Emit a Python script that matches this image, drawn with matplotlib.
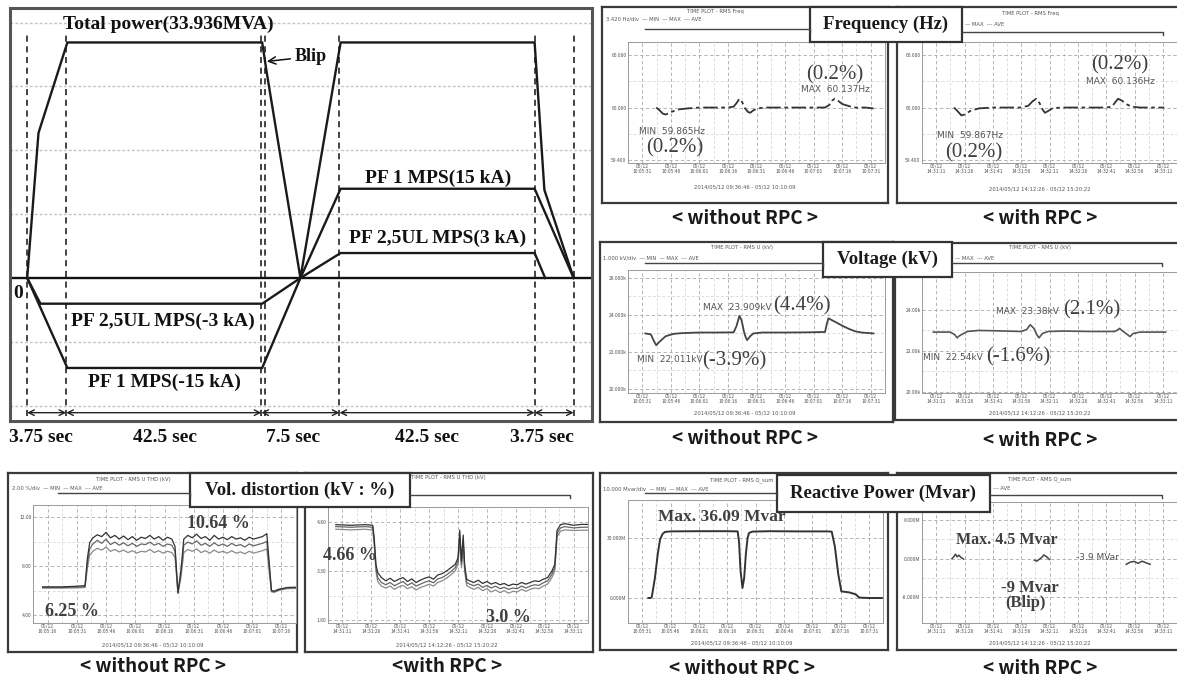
import matplotlib
matplotlib.use('Agg')
import matplotlib.pyplot as plt
from matplotlib.patches import Rectangle
import numpy as np

W, H = 1177, 679
SERIF = ['Liberation Serif', 'DejaVu Serif']
SANS = ['Noto Sans CJK KR', 'DejaVu Sans']
plt.rcParams['font.family'] = SANS

# ------------------------------------------------------------------ data
# main schematic (x: schematic phase positions, y: chart units, top = 33.936 MVA)
seg_bounds = [0, 1, 6, 8, 13, 14]
seg_labels = ['3.75 sec', '42.5 sec', '7.5 sec', '42.5 sec', '3.75 sec']
seg_label_x = [0.36, 3.52, 6.8, 10.25, 13.2]
grid_levels = [36.8, 27.6, 18.4, 9.2, -9.2, -18.4]
power_t = [0, 0.29, 1.03, 6.02, 6.14, 7.0, 8.03, 13.0, 13.25, 14.0]
power_v = [0, 20.9, 33.936, 33.936, 29.5, 0, 33.936, 33.936, 12.7, 0]
pf1_t = [0, 1.03, 6.02, 7.0, 8.03, 13.0, 14.0]
pf1_v = [0, -12.96, -12.96, 0, 12.86, 12.86, 0]
pf25_t = [0, 0.34, 6.02, 7.0, 8.03, 13.0, 13.27]
pf25_v = [0, -3.7, -3.7, 0, 3.6, 3.6, 0]

# frequency (Hz)
fw_x = [0.49, 0.60, 0.72, 0.82, 0.95, 1.10, 1.30, 1.60, 2.00, 2.50, 3.00, 3.20, 3.30, 3.40, 3.50, 3.60, 3.70,
        3.78, 3.90, 4.05, 4.30, 5.00, 5.50, 6.00, 6.40, 6.55, 6.65, 6.74, 6.85, 7.00, 7.20, 7.40, 7.80, 8.10]
fw_y = [60.00, 59.97, 59.93, 59.92, 59.94, 59.96, 59.98, 59.99, 60.00, 60.00, 60.00, 60.01, 60.05, 60.10, 60.06,
        59.99, 59.95, 59.94, 59.97, 59.99, 60.00, 60.00, 60.00, 60.00, 60.00, 60.03, 60.08, 60.10, 60.08, 60.04,
        60.02, 60.00, 60.00, 59.99]
fr_x = [0.63, 0.75, 0.89, 1.00, 1.20, 1.50, 2.00, 2.50, 3.00, 3.25, 3.40, 3.53, 3.65, 3.75, 3.84, 3.95, 4.10,
        4.40, 5.00, 5.50, 6.00, 6.20, 6.32, 6.42, 6.55, 6.70, 6.90, 7.20, 7.60, 8.05]
fr_y = [60.00, 59.96, 59.91, 59.92, 59.96, 59.99, 60.00, 60.00, 60.00, 60.02, 60.07, 60.10, 60.05, 59.98, 59.94,
        59.96, 59.99, 60.00, 60.00, 60.00, 60.00, 60.01, 60.06, 60.10, 60.08, 60.04, 60.01, 60.00, 60.00, 60.00]

# voltage (kV)
vw_x = [0.11, 0.30, 0.42, 0.49, 0.60, 0.82, 1.10, 1.42, 2.00, 2.60, 3.20, 3.30, 3.40, 3.48, 3.56, 3.62, 3.67,
        3.78, 3.89, 4.20, 5.00, 5.80, 6.40, 6.46, 6.52, 6.60, 6.79, 7.00, 7.23, 7.45, 7.67, 8.10]
vw_y = [23.00, 22.95, 22.55, 22.36, 22.55, 22.85, 22.98, 23.02, 23.05, 23.05, 23.06, 23.40, 23.95, 23.70, 23.10,
        22.80, 22.64, 22.85, 23.00, 23.05, 23.05, 23.06, 23.08, 23.50, 23.82, 23.75, 23.60, 23.42, 23.25, 23.12,
        23.05, 23.00]
vr_x = [-0.10, 0.50, 0.65, 0.74, 0.80, 0.90, 1.10, 1.50, 2.20, 3.00, 3.20, 3.32, 3.45, 3.55, 3.63, 3.75, 3.95,
        4.50, 5.50, 6.30, 6.40, 6.47, 6.60, 6.75, 6.84, 6.95, 7.20, 7.80, 8.10]
vr_y = [22.92, 22.92, 22.80, 22.64, 22.72, 22.80, 22.95, 23.00, 22.98, 22.95, 23.05, 23.28, 23.10, 22.80, 22.64,
        22.85, 22.95, 22.97, 22.95, 22.95, 23.02, 23.10, 22.95, 22.80, 22.70, 22.85, 22.92, 22.92, 22.92]

# voltage distortion (%)
dw_x = [-0.17, 0.50, 1.00, 1.28, 1.36, 1.44, 1.55, 1.70, 1.85, 2.00, 2.15, 2.30, 2.45, 2.60, 2.75, 2.90, 3.05,
        3.20, 3.35, 3.50, 3.65, 3.80, 3.95, 4.10, 4.25, 4.36, 4.46, 4.56, 4.66, 4.80, 4.95, 5.10, 5.25, 5.40, 5.55,
        5.70, 5.85, 6.00, 6.15, 6.30, 6.45, 6.60, 6.75, 6.90, 7.05, 7.20, 7.35, 7.50, 7.58, 7.66, 7.75, 7.90, 8.20,
        8.86]
dw_max = [6.30, 6.30, 6.35, 6.40, 8.60, 9.90, 10.30, 10.55, 10.40, 10.75, 10.30, 10.50, 10.20, 10.45, 10.15, 10.40,
          10.10, 10.35, 10.25, 10.50, 10.20, 10.40, 10.10, 10.35, 10.20, 9.60, 5.85, 7.60, 10.20, 10.50, 10.30,
          10.60, 10.25, 10.40, 10.10, 10.50, 10.20, 10.35, 10.15, 10.40, 10.20, 10.30, 10.10, 10.35, 10.20, 10.30,
          10.40, 10.64, 8.40, 6.00, 5.95, 6.10, 6.25, 6.30]
dw_ave = [6.25, 6.25, 6.28, 6.30, 8.20, 9.40, 9.80, 10.10, 9.85, 10.20, 9.75, 9.95, 9.70, 9.90, 9.65, 9.85, 9.60,
          9.80, 9.75, 9.95, 9.70, 9.85, 9.60, 9.80, 9.70, 9.20, 5.80, 7.30, 9.70, 9.95, 9.80, 10.05, 9.70, 9.85,
          9.60, 9.90, 9.65, 9.80, 9.60, 9.85, 9.65, 9.75, 9.55, 9.80, 9.65, 9.75, 9.85, 10.00, 8.00, 5.95, 5.90,
          6.05, 6.20, 6.25]
dw_min = [6.20, 6.20, 6.22, 6.25, 7.80, 8.90, 9.20, 9.45, 9.30, 9.55, 9.20, 9.35, 9.15, 9.30, 9.10, 9.25, 9.05,
          9.20, 9.15, 9.35, 9.10, 9.25, 9.05, 9.20, 9.10, 8.70, 5.75, 7.00, 9.10, 9.35, 9.20, 9.40, 9.10, 9.25,
          9.05, 9.30, 9.10, 9.20, 9.05, 9.25, 9.05, 9.15, 9.00, 9.20, 9.05, 9.15, 9.25, 9.40, 7.60, 5.90, 5.85,
          6.00, 6.15, 6.20]
dr_x = [-0.23, 0.30, 0.80, 1.05, 1.10, 1.16, 1.22, 1.35, 1.50, 1.65, 1.80, 1.95, 2.10, 2.25, 2.40, 2.55, 2.70,
        2.85, 3.00, 3.15, 3.30, 3.45, 3.60, 3.75, 3.90, 4.00, 4.06, 4.12, 4.18, 4.23, 4.30, 4.40, 4.55, 4.70, 4.85,
        5.00, 5.15, 5.30, 5.45, 5.60, 5.75, 5.90, 6.05, 6.20, 6.35, 6.50, 6.65, 6.80, 6.95, 7.10, 7.25, 7.35, 7.43,
        7.55, 7.70, 8.00, 8.30, 8.69]
dr_max = [4.72, 4.70, 4.72, 4.70, 4.30, 3.50, 3.25, 3.10, 3.00, 3.08, 2.98, 3.05, 3.10, 2.98, 3.06, 2.95, 3.02,
          3.08, 3.12, 3.05, 3.18, 3.22, 3.30, 3.40, 3.50, 3.70, 4.55, 3.60, 4.40, 3.50, 3.05, 3.00, 2.95, 3.02,
          2.92, 2.98, 2.90, 2.95, 2.88, 2.92, 2.85, 2.90, 2.88, 2.95, 2.90, 2.95, 3.00, 2.98, 3.05, 3.10, 3.30,
          3.50, 4.55, 4.72, 4.75, 4.70, 4.73, 4.72]
dr_ave = [4.66, 4.64, 4.66, 4.64, 4.20, 3.40, 3.10, 2.95, 2.88, 2.95, 2.85, 2.92, 2.98, 2.86, 2.94, 2.84, 2.90,
          2.96, 3.00, 2.94, 3.06, 3.10, 3.18, 3.28, 3.40, 3.60, 4.40, 3.50, 4.25, 3.40, 2.95, 2.90, 2.85, 2.90,
          2.80, 2.86, 2.78, 2.84, 2.76, 2.80, 2.74, 2.78, 2.76, 2.84, 2.78, 2.84, 2.88, 2.86, 2.94, 3.00, 3.20,
          3.40, 4.45, 4.62, 4.66, 4.62, 4.64, 4.64]
dr_min = [4.58, 4.56, 4.58, 4.55, 4.10, 3.30, 2.98, 2.84, 2.78, 2.84, 2.74, 2.82, 2.86, 2.76, 2.82, 2.72, 2.80,
          2.84, 2.90, 2.84, 2.95, 3.00, 3.08, 3.18, 3.30, 3.50, 4.25, 3.40, 4.10, 3.30, 2.86, 2.80, 2.74, 2.80,
          2.70, 2.76, 2.66, 2.72, 2.64, 2.70, 2.62, 2.68, 2.66, 2.74, 2.68, 2.74, 2.78, 2.76, 2.84, 2.90, 3.10,
          3.30, 4.35, 4.52, 4.56, 4.54, 4.55, 4.55]

# reactive power (Mvar)
qw_x = [0.22, 0.30, 0.34, 0.45, 0.55, 0.63, 0.72, 0.80, 1.00, 2.00, 3.00, 3.37, 3.42, 3.47, 3.54, 3.60, 3.66,
        3.72, 3.77, 3.89, 4.50, 5.50, 6.50, 6.69, 6.80, 6.92, 7.03, 7.31, 7.54, 7.66, 8.00, 8.46]
qw_y = [0.0, 0.0, 0.5, 10.0, 22.0, 29.2, 32.0, 33.0, 33.3, 33.4, 33.4, 33.3, 28.0, 14.0, 5.0, 10.0, 22.0, 30.0,
        32.5, 33.2, 33.4, 33.3, 33.3, 33.2, 25.8, 12.0, 3.3, 2.8, 1.8, 0.2, 0.0, 0.0]
qr_x = [0.56, 0.62, 0.68, 0.74, 0.80, 0.88, 0.96, np.nan, 3.47, 3.55, 3.63, 3.72, 3.80, 3.90, 4.00, np.nan,
        6.71, 6.85, 6.99, 7.13, 7.27, 7.41, 7.55]
qr_y = [0.0, 0.35, 0.9, 0.35, 0.7, 0.2, -0.07, np.nan, -0.35, -0.55, -0.2, 0.2, 0.75, 0.35, -0.2, np.nan,
        -1.2, -0.75, -0.6, -1.0, -0.55, -0.9, -1.2]

t_wo_a = ['10:05:31', '10:05:46', '10:06:01', '10:06:16', '10:06:31', '10:06:46', '10:07:01', '10:07:16', '10:07:31']
t_wo_b = ['10:05:16', '10:05:31', '10:05:46', '10:06:01', '10:06:16', '10:06:31', '10:06:46', '10:07:01', '10:07:16']
t_with = ['14:31:11', '14:31:26', '14:31:41', '14:31:56', '14:32:11', '14:32:26', '14:32:41', '14:32:56', '14:33:11']
range_wo = '2014/05/12 09:36:46 - 05/12 10:10:09'
range_with = '2014/05/12 14:12:26 - 05/12 15:20:22'

# ------------------------------------------------------------------ figure
fig = plt.figure(figsize=(W / 100, H / 100), dpi=100)
fig.patch.set_facecolor('white')


def px_axes(x0, y0, x1, y1, z=1):
    a = fig.add_axes([x0 / W, 1 - y1 / H, (x1 - x0) / W, (y1 - y0) / H])
    a.set_zorder(z)
    return a


# ---------------- main schematic panel
ax = px_axes(10, 8, 592, 421)
ax.set_xlim(-0.44, 14.47)
ax.set_ylim(-20.6, 38.9)
ax.set_xticks([])
ax.set_yticks([])
for s in ax.spines.values():
    s.set_color('#555')
    s.set_linewidth(2.2)
for g in grid_levels:
    ax.axhline(g, color='#c4c4c4', lw=1.0, ls=(0, (2, 1.5)))
for b in seg_bounds:
    ax.plot([b, b], [-19.9, 35.6], color='#111', lw=1.1, ls=(0, (4, 3)))
ax.plot([6.1, 6.1], [-19.9, 35.6], color='#111', lw=1.1, ls=(0, (4, 3)))
ax.axhline(0, color='#111', lw=1.7)
for t, v in ((power_t, power_v), (pf1_t, pf1_v), (pf25_t, pf25_v)):
    ax.plot(t, v, color='#1a1a1a', lw=1.7, solid_joinstyle='miter')
for i in range(len(seg_labels)):
    ax.annotate('', xy=(seg_bounds[i], -19.4), xytext=(seg_bounds[i + 1], -19.4),
                arrowprops=dict(arrowstyle='<->', lw=1.0, color='#222', shrinkA=0, shrinkB=0,
                                mutation_scale=10))
    ax.text(seg_label_x[i], -23.0, seg_labels[i], ha='center', va='center', fontsize=14,
            fontweight='bold', family=SERIF, color='#111', clip_on=False)
tk = dict(fontsize=14, fontweight='bold', family=SERIF, color='#111', ha='center', va='center')
ax.text(3.62, 36.5, 'Total power(33.936MVA)', **tk)
ax.text(10.52, 14.4, 'PF 1 MPS(15 kA)', **tk)
ax.text(10.52, 5.76, 'PF 2,5UL MPS(3 kA)', **tk)
ax.text(3.48, -6.24, 'PF 2,5UL MPS(-3 kA)', **tk)
ax.text(3.52, -15.1, 'PF 1 MPS(-15 kA)', **tk)
ax.text(-0.22, -2.2, '0', **tk)
ax.annotate('Blip', xy=(6.14, 31.2), xytext=(6.85, 31.9), ha='left', va='center', fontsize=13,
            fontweight='bold', family=SERIF, color='#111',
            arrowprops=dict(arrowstyle='->', lw=1.1, color='#111', shrinkA=1, shrinkB=0))


# ---------------- oscilloscope panels
def scope(box, plot, ylim, yticks, ytl, ticklabels):
    fa = px_axes(*box, z=1)
    fa.set_xticks([])
    fa.set_yticks([])
    for s in fa.spines.values():
        s.set_color('#3a3a3a')
        s.set_linewidth(1.6)
    a = px_axes(*plot, z=2)
    a.set_xlim(-0.25, 8.25)
    a.set_ylim(*ylim)
    a.set_xticks(range(9))
    a.set_xticklabels(['05/12\n' + t for t in ticklabels], fontsize=3.6, color='#555', linespacing=1.0)
    a.set_yticks(yticks)
    a.set_yticklabels(ytl, fontsize=3.6, color='#555')
    mids = [(yticks[i] + yticks[i + 1]) / 2 for i in range(len(yticks) - 1)]
    a.set_yticks(mids, minor=True)
    a.set_xticks([i + 0.5 for i in range(-1, 9)], minor=True)
    a.tick_params(length=0, pad=1, which='both')
    a.grid(True, which='major', color='#a8a8a8', lw=0.6, ls=(0, (4, 3)))
    a.grid(True, which='minor', color='#cfcfcf', lw=0.5, ls=(0, (4, 3)))
    for s in a.spines.values():
        s.set_color('#9a9a9a')
        s.set_linewidth(0.7)
    a.set_axisbelow(True)
    return a


# frequency without / with
a = scope((602, 7, 888, 203), (628, 42, 885, 163), (59.366, 60.749), [59.4, 60.0, 60.6],
          ['59.400', '60.000', '60.600'], t_wo_a)
a.plot(fw_x, fw_y, color='#333', lw=1.3, ls=(0, (8, 2, 2, 2)))
a = scope((897, 7, 1180, 203), (922, 42, 1177, 163), (59.366, 60.749), [59.4, 60.0, 60.6],
          ['59.400', '60.000', '60.600'], t_with)
a.plot(fr_x, fr_y, color='#333', lw=1.3, ls=(0, (8, 2, 2, 2)))

# voltage without / with
a = scope((600, 242, 893, 422), (628, 270, 885, 393), (19.78, 26.43), [20, 22, 24, 26],
          ['20.000k', '22.000k', '24.000k', '26.000k'], t_wo_a)
a.plot(vw_x, vw_y, color='#444', lw=1.3)
a = scope((895, 243, 1180, 420), (922, 272, 1177, 393), (19.95, 25.85), [20, 22, 24],
          ['20.00k', '22.00k', '24.00k'], t_with)
a.plot(vr_x, vr_y, color='#555', lw=1.2)

# voltage distortion without / with
a = scope((8, 473, 297, 652), (33, 505, 296, 623), (3.35, 12.98), [4, 8, 12],
          ['4.00', '8.00', '12.00'], t_wo_b)
a.plot(dw_x, dw_min, color='#8a8a8a', lw=0.9)
a.plot(dw_x, dw_ave, color='#666', lw=0.9)
a.plot(dw_x, dw_max, color='#333', lw=0.9)
a = scope((305, 473, 593, 652), (328, 507, 588, 623), (1.71, 5.26), [1.8, 3.3, 4.8],
          ['1.80', '3.30', '4.80'], t_with)
a.plot(dr_x, dr_min, color='#8a8a8a', lw=0.9)
a.plot(dr_x, dr_ave, color='#666', lw=0.9)
a.plot(dr_x, dr_max, color='#333', lw=0.9)

# reactive power without / with
a = scope((600, 473, 888, 650), (628, 500, 883, 623), (-12.5, 49.0), [0, 30],
          ['0.000M', '30.000M'], t_wo_a)
a.plot(qw_x, qw_y, color='#333', lw=1.4)
a = scope((897, 473, 1180, 650), (922, 502, 1177, 623), (-13.4, 11.75), [-8, 0, 8],
          ['-8.000M', '0.000M', '8.000M'], t_with)
a.plot(qr_x, qr_y, color='#444', lw=1.1)

# ---------------- overlay (pixel coordinates) for headers, notes, label boxes, captions
ov = fig.add_axes([0, 0, 1, 1])
ov.set_zorder(10)
ov.patch.set_alpha(0)
ov.set_xlim(0, W)
ov.set_ylim(H, 0)
ov.axis('off')

tiny = dict(fontsize=3.8, color='#555', family=['DejaVu Sans'])
headers = [
    (715, 12, 'TIME PLOT - RMS Freq', 606, 19, '3.420 Hz/div  — MIN  — MAX  --- AVE', 29, 645, 810),
    (1030, 14, 'TIME PLOT - RMS Freq', 965, 24, '— MAX  --- AVE', 32, 962, 1163),
    (742, 248, 'TIME PLOT - RMS U (kV)', 603, 258, '1.000 kV/div  — MIN  — MAX  --- AVE', 263, 645, 823),
    (1040, 248, 'TIME PLOT - RMS U (kV)', 955, 258, '— MAX  --- AVE', 263, 952, 1162),
    (133, 480, 'TIME PLOT - RMS U THD (kV)', 12, 488, '2.00 %/div  — MIN  — MAX  --- AVE', 493, 58, 190),
    (448, 478, 'TIME PLOT - RMS U THD (kV)', 412, 488, '', 495, 410, 570),
    (742, 480, 'TIME PLOT - RMS Q_sum', 603, 489, '10.000 Mvar/div  — MIN  — MAX  --- AVE', 493, 645, 777),
    (1040, 479, 'TIME PLOT - RMS Q_sum', 993, 488, '--- AVE', 495, 990, 1162),
]
for (tx, ty, title, lx, ly, leg, hy, hx0, hx1) in headers:
    ov.text(tx, ty, title, ha='center', va='center', **tiny)
    if leg:
        ov.text(lx, ly, leg, ha='left', va='center', **tiny)
    ov.plot([hx0, hx1, hx1], [hy, hy, hy + 3], color='#444', lw=1.0)

for cx, cy, txt in ((745, 187, range_wo), (1040, 189, range_with), (745, 413, range_wo),
                    (1040, 413, range_with), (153, 645, range_wo), (447, 645, range_with),
                    (742, 643, range_wo), (1040, 643, range_with)):
    ov.text(cx, cy, txt, ha='center', va='center', **tiny)

big = dict(family=SERIF, color='#404040', ha='center', va='center')
small = dict(family=['DejaVu Sans'], color='#555', ha='center', va='center', fontsize=6.5)
# frequency notes
ov.text(835, 75, '(0.2%)', fontsize=15, **big)
ov.text(835, 89, 'MAX  60.137Hz', **small)
ov.text(672, 132, 'MIN  59.865Hz', **small)
ov.text(675, 148, '(0.2%)', fontsize=15, **big)
ov.text(1120, 65, '(0.2%)', fontsize=15, **big)
ov.text(1120, 82, 'MAX  60.136Hz', **small)
ov.text(970, 135, 'MIN  59.867Hz', **small)
ov.text(974, 153, '(0.2%)', fontsize=15, **big)
# voltage notes
ov.text(737, 307, 'MAX  23.909kV', **small)
ov.text(802, 306, '(4.4%)', fontsize=15, **big)
ov.text(670, 360, 'MIN  22.011kV', **small)
ov.text(734, 361, '(-3.9%)', fontsize=15, **big)
ov.text(1027, 312, 'MAX  23.38kV', **small)
ov.text(1092, 310, '(2.1%)', fontsize=15, **big)
ov.text(953, 358, 'MIN  22.54kV', **small)
ov.text(1018, 357, '(-1.6%)', fontsize=15, **big)
# distortion notes
ov.text(218, 523, '10.64 %', fontsize=13, fontweight='bold', **big)
ov.text(72, 611, '6.25 %', fontsize=13, fontweight='bold', **big)
ov.text(350, 556, '4.66 %', fontsize=13, fontweight='bold', **big)
ov.text(508, 617, '3.0 %', fontsize=13, fontweight='bold', **big)
# reactive power notes
ov.text(722, 517, 'Max. 36.09 Mvar', fontsize=12.5, fontweight='bold', **big)
ov.text(1007, 540, 'Max. 4.5 Mvar', fontsize=11.5, fontweight='bold', **big)
ov.text(1097, 557, '-3.9 MVar', **small)
ov.text(1030, 588, '-9 Mvar', fontsize=12, fontweight='bold', **big)
ov.text(1026, 603, '(Blip)', fontsize=12, fontweight='bold', **big)

# label boxes
for (x0, y0, x1, y1), txt in (((810, 7, 962, 42), 'Frequency (Hz)'),
                              ((823, 242, 952, 277), 'Voltage (kV)'),
                              ((190, 473, 410, 507), 'Vol. distortion (kV : %)'),
                              ((777, 475, 990, 512), 'Reactive Power (Mvar)')):
    ov.add_patch(Rectangle((x0, y0), x1 - x0, y1 - y0, fc='white', ec='#333', lw=1.6))
    ov.text((x0 + x1) / 2, (y0 + y1) / 2, txt, ha='center', va='center', fontsize=13.5,
            fontweight='bold', family=SERIF, color='#1a1a1a')

# captions
cap = dict(ha='center', va='center', fontsize=13.5, fontweight='bold', family=SANS, color='#1a1a1a')
ov.text(745, 218, '< without RPC >', **cap)
ov.text(1040, 218, '< with RPC >', **cap)
ov.text(745, 438, '< without RPC >', **cap)
ov.text(1040, 440, '< with RPC >', **cap)
ov.text(153, 667, '< without RPC >', **cap)
ov.text(447, 667, '<with RPC >', **cap)
ov.text(742, 668, '< without RPC >', **cap)
ov.text(1040, 668, '< with RPC >', **cap)

fig.savefig('out.png', dpi=100, facecolor='white')
